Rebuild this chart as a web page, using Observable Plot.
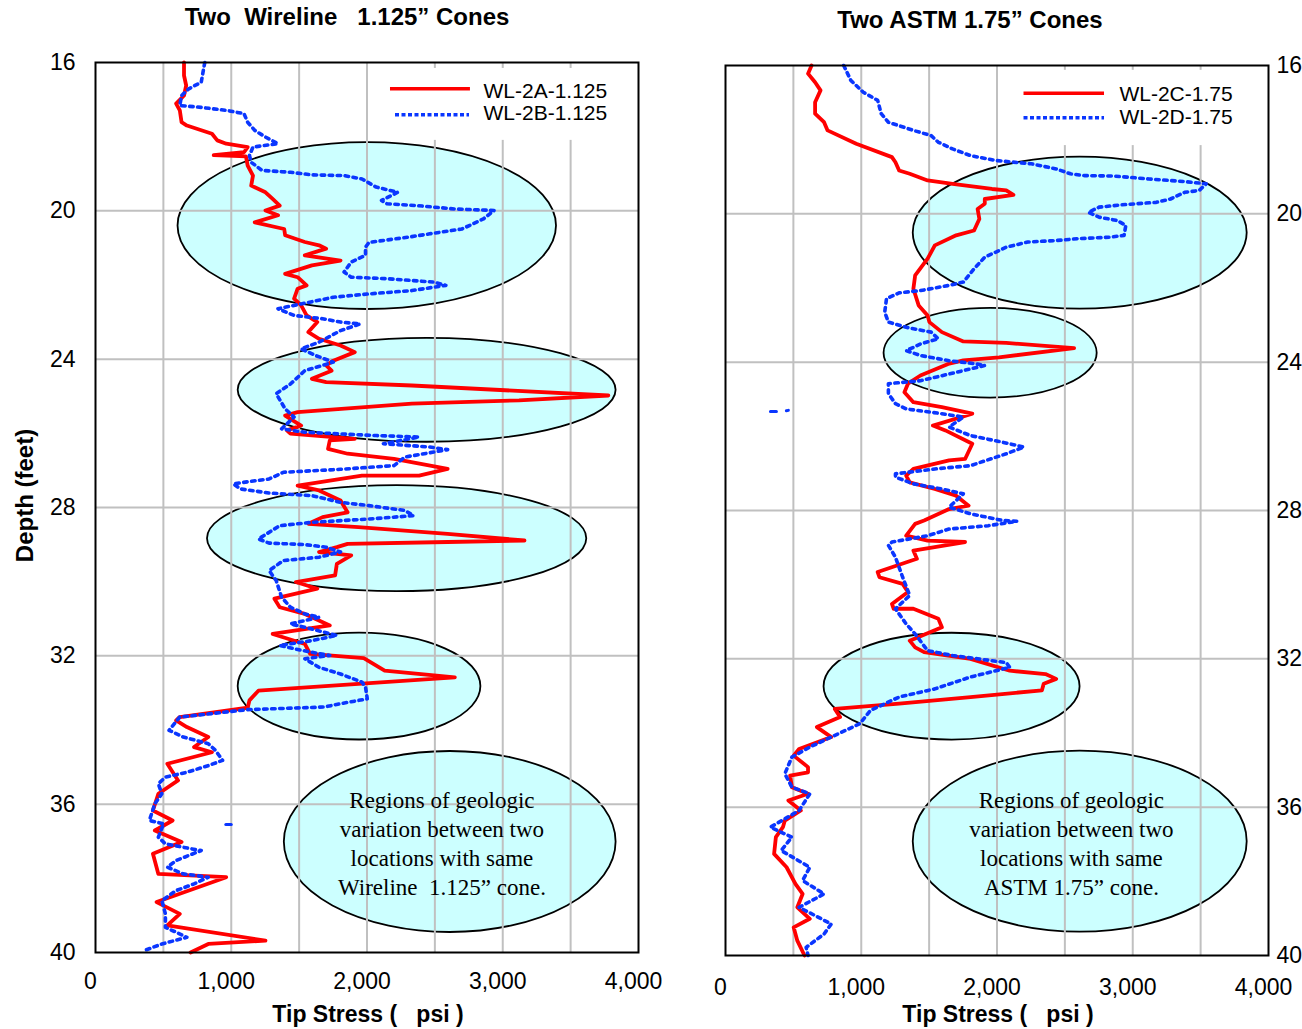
<!DOCTYPE html>
<html>
<head>
<meta charset="utf-8">
<script src="https://cdn.jsdelivr.net/npm/d3@7"></script>
<script src="https://cdn.jsdelivr.net/npm/@observablehq/plot@0.6"></script>
<style>
  body { margin: 0; background: #fff; }
  #wrap { position: relative; width: 1302px; height: 1029px; overflow: hidden; background: #fff; }
  #left, #right { position: absolute; top: 0; }
  #left { left: 0; }
  #right { left: 651px; }
  svg text { white-space: pre; }
</style>
</head>
<body>
<div id="wrap"><div id="left"></div><div id="right"></div></div>
<script>
// ---------- DATA (depth in feet, tip stress in psi) ----------
const wl2aDepth = [16.00,16.35,16.62,16.89,17.11,17.29,17.61,17.70,17.92,18.10,
  18.19,18.28,18.42,18.50,18.53,18.78,19.05,19.32,19.50,19.68,
  19.86,19.99,20.12,20.31,20.49,20.66,20.84,20.93,21.02,21.20,
  21.34,21.47,21.70,21.79,22.01,22.10,22.37,22.55,22.82,23.00,
  23.27,23.45,23.63,23.81,24.04,24.17,24.31,24.53,24.62,24.71,
  24.98,25.11,25.20,25.43,25.52,25.79,25.92,26.01,26.15,26.19,
  26.42,26.55,26.69,26.96,27.14,27.14,27.41,27.54,27.81,28.13,
  28.26,28.44,28.53,28.71,28.89,28.93,28.98,29.07,29.20,29.29,
  29.52,29.83,30.01,30.19,30.46,30.69,30.87,31.18,31.41,31.68,
  31.95,32.06,32.40,32.58,32.94,33.20,33.40,33.65,33.74,33.92,
  34.19,34.46,34.60,34.91,35.36,35.72,36.17,36.44,36.71,37.02,
  37.34,37.88,37.97,38.64,38.96,39.27,39.68,39.77,40.00];
const wl2aTip = [652,652,668,652,594,621,634,673,858,897,
  963,1121,1094,871,1108,1121,1160,1147,1252,1305,
  1357,1252,1345,1173,1390,1397,1542,1647,1699,1542,
  1805,1594,1397,1489,1555,1489,1463,1515,1555,1634,
  1568,1647,1805,1910,1752,1699,1739,1594,1699,2331,
  3778,3120,2331,1489,1397,1515,1410,1436,1910,1726,
  1713,1857,2199,2594,2384,1963,1489,1647,1805,1857,
  1673,1568,1936,2594,3160,2594,1857,1778,1647,1884,
  1778,1765,1476,1634,1318,1357,1542,1726,1305,1542,
  1581,1976,2130,2647,1200,1134,1121,621,594,673,
  831,726,858,529,608,463,423,568,437,634,
  423,463,963,450,621,529,1252,831,700];

const wl2bDepth = [16.00,16.26,16.53,16.71,16.89,17.16,17.20,17.29,17.38,17.61,
  17.83,18.01,18.19,18.28,18.51,18.69,18.91,18.96,19.03,19.05,
  19.14,19.36,19.50,19.72,19.81,19.86,19.95,19.99,20.22,20.49,
  20.62,20.71,20.85,20.98,21.20,21.38,21.65,21.79,21.83,21.92,
  22.01,22.15,22.24,22.33,22.51,22.64,22.82,22.91,23.00,23.05,
  23.23,23.54,23.72,23.90,24.08,24.31,24.67,24.93,25.34,25.56,
  25.88,25.97,26.06,26.10,26.28,26.37,26.44,26.64,26.87,26.97,
  27.05,27.23,27.36,27.50,27.61,27.68,27.86,27.95,28.08,28.22,
  28.31,28.40,28.49,28.85,28.96,29.00,29.07,29.20,29.34,29.43,
  29.70,29.97,30.42,30.69,30.87,30.96,31.14,31.23,31.45,31.59,
  31.72,31.85,31.99,32.08,32.31,32.49,32.71,32.84,33.16,33.29,
  33.38,33.42,33.45,33.60,33.65,34.01,34.19,34.37,34.55,34.82,
  34.96,35.14,35.27,35.45,35.72,35.99,36.44,36.53,36.89,37.07,
  37.20,37.25,37.52,37.70,37.88,37.97,38.15,38.33,38.60,38.96,
  39.32,39.59,39.77,39.95];
const wl2bTip = [805,792,779,687,634,621,752,963,1094,1121,
  1173,1252,1344,1160,1134,1147,1226,1436,1594,1831,
  1963,2068,2226,2107,2147,2371,2647,2936,2857,2699,
  2462,2305,2015,1989,1989,1884,1831,1884,2147,2489,
  2581,2331,2015,1752,1515,1344,1463,1673,1805,1949,
  1805,1647,1515,1620,1752,1542,1436,1331,1397,1463,
  1371,1542,2068,2384,2121,2462,2594,2278,2199,1805,
  1384,1279,1015,1068,1279,1594,1805,2015,2278,2344,
  2015,1594,1357,1200,1279,1542,1699,1805,1647,1384,
  1279,1331,1371,1436,1542,1647,1436,1542,1778,1594,
  1357,1515,1726,1542,1647,1805,1963,1989,2002,1805,
  1686,1370,1121,752,621,542,647,831,884,936,
  831,673,515,463,489,437,397,502,463,515,
  700,779,594,529,647,831,726,594,489,515,
  515,673,489,358];
// isolated stray readings of WL-2B
const wl2bStrayDepth = [36.55, 36.55];
const wl2bStrayTip = [960, 1000];

const wl2cDepth = [16.00,16.22,16.45,16.67,16.99,17.30,17.53,17.75,18.11,18.47,
  18.61,18.83,18.92,19.10,19.19,19.33,19.37,19.49,19.60,19.73,
  19.87,20.14,20.45,20.58,20.85,21.21,21.66,22.02,22.47,22.74,
  22.92,23.19,23.44,23.48,23.62,23.87,23.95,24.05,24.36,24.58,
  24.81,25.08,25.21,25.39,25.71,25.84,26.20,26.61,26.65,26.88,
  27.06,27.24,27.42,27.60,27.87,27.96,28.27,28.36,28.68,28.81,
  28.85,29.08,29.30,29.66,29.80,29.98,30.20,30.52,30.65,30.65,
  30.92,31.15,31.51,31.69,31.82,32.00,32.32,32.41,32.54,32.67,
  32.85,33.03,33.21,33.35,33.57,33.84,34.11,34.43,34.61,34.92,
  35.06,35.15,35.46,35.64,35.82,36.09,36.36,36.54,36.81,37.26,
  37.62,38.07,38.34,38.70,39.01,39.24,39.60,40.00];
const wl2cTip = [634,608,660,700,660,660,726,752,963,1226,
  1252,1279,1357,1489,1673,1963,2068,2121,1910,1910,
  1857,1870,1831,1699,1542,1489,1397,1384,1423,1489,
  1502,1594,1752,2068,2568,2015,1752,1640,1436,1344,
  1318,1384,1594,1818,1528,1620,1818,1765,1647,1384,
  1331,1357,1542,1699,1791,1647,1463,1397,1331,1489,
  1765,1384,1410,1121,1134,1305,1344,1226,1239,1384,
  1568,1594,1357,1397,1463,1805,2094,2357,2436,2344,
  2331,1805,1279,805,844,673,779,542,502,608,
  608,476,489,608,463,555,437,423,371,358,
  450,515,568,529,621,502,529,582];

const wl2dDepth = [16.00,16.40,16.72,16.94,17.30,17.53,17.75,17.89,18.07,18.25,
  18.43,18.56,18.65,18.79,18.92,18.97,18.98,19.06,19.13,19.19,
  19.37,19.42,19.60,19.69,19.76,19.82,19.96,20.09,20.18,20.31,
  20.58,20.63,20.67,20.72,20.76,20.90,21.17,21.48,21.84,21.93,
  22.07,22.13,22.29,22.65,22.92,23.06,23.19,23.37,23.51,23.69,
  23.82,23.96,24.05,24.09,24.32,24.50,24.58,24.85,25.12,25.26,
  25.39,25.48,25.75,25.98,26.16,26.29,26.47,26.79,26.88,27.01,
  27.10,27.28,27.42,27.55,27.91,28.09,28.27,28.29,28.41,28.50,
  28.68,28.85,28.94,29.26,29.80,30.29,30.65,31.06,31.33,31.78,
  31.91,32.00,32.10,32.23,32.49,32.81,33.03,33.39,33.75,34.02,
  34.38,34.65,35.10,35.46,35.64,36.09,36.54,36.81,37.17,37.62,
  37.98,38.34,38.70,39.15,39.42,39.78,40.00];
const wl2dTip = [871,923,1015,1121,1147,1200,1384,1515,1568,1673,
  1805,1989,2252,2436,2541,2647,2857,3120,3383,3541,
  3489,3383,3278,3173,2910,2752,2673,2752,2884,2949,
  2936,2831,2594,2436,2226,2068,1910,1831,1752,1647,
  1436,1279,1186,1173,1200,1331,1515,1568,1436,1331,
  1436,1647,1857,1910,1647,1436,1200,1200,1252,1331,
  1594,1752,1647,1805,2042,2199,2068,1805,1542,1252,
  1252,1384,1594,1752,1647,1805,2042,2147,1936,1647,
  1489,1226,1200,1252,1305,1357,1252,1331,1397,1489,
  1673,1857,2068,2094,1805,1542,1279,1068,989,831,
  621,489,437,489,621,542,331,489,410,621,
  568,726,542,779,726,594,608];
// isolated stray readings of WL-2D
const wl2dStrayDepth = [25.33, 25.33, 25.30];
const wl2dStrayTip = [331, 420, 463];

const xTicks = [0, 1000, 2000, 3000, 4000];
const xGrid = [500, 1000, 1500, 2000, 2500, 3000, 3500];
const yTicks = [16, 20, 24, 28, 32, 36, 40];
const yGrid = [20, 24, 28, 32, 36];

// annotation ellipses (centre and radii in data units)
const leftEllipses = [
  {cx: 2002, cy: 20.41, rx: 1394, ry: 2.25},
  {cx: 2443, cy: 24.84, rx: 1392, ry: 1.40},
  {cx: 2222, cy: 28.84, rx: 1397, ry: 1.43},
  {cx: 1945, cy: 32.83, rx: 894,  ry: 1.44},
  {cx: 2613, cy: 37.02, rx: 1222, ry: 2.44}
];
const rightEllipses = [
  {cx: 2613, cy: 20.52, rx: 1230, ry: 2.05},
  {cx: 1953, cy: 23.76, rx: 785,  ry: 1.21},
  {cx: 1669, cy: 32.75, rx: 943,  ry: 1.44},
  {cx: 2613, cy: 36.93, rx: 1230, ry: 2.44}
];
const leftNote = "Regions of geologic\nvariation between two\nlocations with same\nWireline  1.125\u201D cone.";
const rightNote = "Regions of geologic\nvariation between two\nlocations with same\nASTM 1.75\u201D cone.";

// ---------- helpers ----------
const series = (depths, tips) => depths.map((d, i) => ({depth: d, tip: tips[i]}));
const RED = "#ff0000", BLUE = "#0a36ff";
const SANS = "'Liberation Sans', Arial, sans-serif";
const SERIF = "'Liberation Serif', 'Times New Roman', serif";

function ellipseMark(list) {
  return (index, scales) => {
    const g = d3.create("svg:g");
    for (const e of list) {
      const cx = scales.x(e.cx), cy = scales.y(e.cy);
      g.append("ellipse")
        .attr("cx", cx).attr("cy", cy)
        .attr("rx", Math.abs(scales.x(e.cx + e.rx) - cx))
        .attr("ry", Math.abs(scales.y(e.cy + e.ry) - cy))
        .attr("fill", "#ccffff").attr("stroke", "#000").attr("stroke-width", 1.8);
    }
    return g.node();
  };
}

function panel(cfg) {
  return Plot.plot({
    width: 651, height: 1029,
    marginLeft: cfg.ml, marginRight: cfg.mr, marginTop: cfg.mt, marginBottom: cfg.mb,
    x: {domain: [0, 4000]},
    y: {domain: [16, 40], reverse: true},
    style: {fontFamily: SANS, background: "transparent", color: "#000", overflow: "visible"},
    marks: [
      ellipseMark(cfg.ellipses),
      Plot.ruleX(xGrid, {stroke: "#c0c0c0", strokeWidth: 2}),
      Plot.ruleY(yGrid, {stroke: "#c0c0c0", strokeWidth: 2}),
      Plot.rect([cfg.legendBox], {x1: "x1", x2: "x2", y1: "y1", y2: "y2", fill: "#fff"}),
      Plot.line(cfg.a, {x: "tip", y: "depth", stroke: RED, strokeWidth: 3.8, strokeLinejoin: "round"}),
      Plot.line(cfg.b, {x: "tip", y: "depth", stroke: BLUE, strokeWidth: 3.6, strokeDasharray: "3.5,4.5"}),
      Plot.line(cfg.stray, {x: "tip", y: "depth", stroke: BLUE, strokeWidth: 3, strokeDasharray: "6,10"}),
      Plot.text([cfg.note], {x: () => cfg.noteX, y: () => cfg.noteY, fontFamily: SERIF, fontSize: 23, lineHeight: 1.26, textAnchor: "middle", fill: "#000"}),
      Plot.frame({stroke: "#000", strokeWidth: 2}),
      // legend
      Plot.ruleY([cfg.leg[0]], {y: "y", x1: "x1", x2: "x2", stroke: RED, strokeWidth: 3.5}),
      Plot.ruleY([cfg.leg[1]], {y: "y", x1: "x1", x2: "x2", stroke: BLUE, strokeWidth: 3.5, strokeDasharray: "4,2.5"}),
      Plot.text(cfg.leg, {x: "tx", y: "ty", text: "label", textAnchor: "start", fontSize: 21, fill: "#000"}),
      // axes
      Plot.axisX({ticks: xTicks, tickFormat: d3.format(","), tickSize: 0, tickPadding: cfg.xPad, fontSize: 23, dx: -5, label: null}),
      Plot.axisY({anchor: cfg.yAnchor, ticks: yTicks, tickSize: 0, tickPadding: cfg.yPad, fontSize: 23, label: null}),
      // titles
      Plot.text([cfg.title], {frameAnchor: "top", textAnchor: "middle", lineAnchor: "middle", dx: cfg.titleDx, dy: cfg.titleDy, fontSize: 24, fontWeight: "bold", fill: "#000"}),
      Plot.text(["Tip Stress (   psi )"], {frameAnchor: "bottom", textAnchor: "middle", lineAnchor: "middle", dx: 1, dy: cfg.xLabDy, fontSize: 23, fontWeight: "bold", fill: "#000"}),
      ...(cfg.yLabel ? [Plot.text([cfg.yLabel], {frameAnchor: "left", textAnchor: "middle", lineAnchor: "middle", rotate: -90, dx: -70, dy: -12, fontSize: 24, fontWeight: "bold", fill: "#000"})] : [])
    ]
  });
}

document.getElementById("left").append(panel({
  ml: 95, mr: 13, mt: 62, mb: 77,
  ellipses: leftEllipses,
  a: series(wl2aDepth, wl2aTip), b: series(wl2bDepth, wl2bTip),
  stray: series(wl2bStrayDepth, wl2bStrayTip),
  note: leftNote, noteX: 2552, noteY: 37.02,
  legendBox: {x1: 2099, x2: 3985, y1: 16.16, y2: 18.10},
  leg: [
    {label: "WL-2A-1.125", y: 16.71, x1: 2173, x2: 2762, tx: 2858, ty: 16.78},
    {label: "WL-2B-1.125", y: 17.41, x1: 2210, x2: 2755, tx: 2858, ty: 17.36}
  ],
  xPad: 20, yAnchor: "left", yPad: 20,
  title: "Two  Wireline   1.125\u201D Cones", titleDx: -20, titleDy: -45, xLabDy: 62,
  yLabel: "Depth (feet)"
}));

document.getElementById("right").append(panel({
  ml: 74, mr: 34, mt: 65, mb: 74,
  ellipses: rightEllipses,
  a: series(wl2cDepth, wl2cTip), b: series(wl2dDepth, wl2dTip),
  stray: series(wl2dStrayDepth, wl2dStrayTip),
  note: rightNote, noteX: 2548, noteY: 36.94,
  legendBox: {x1: 2099, x2: 3985, y1: 16.13, y2: 18.16},
  leg: [
    {label: "WL-2C-1.75", y: 16.75, x1: 2199, x2: 2792, tx: 2902, ty: 16.78},
    {label: "WL-2D-1.75", y: 17.41, x1: 2199, x2: 2792, tx: 2902, ty: 17.39}
  ],
  xPad: 23, yAnchor: "right", yPad: 8,
  title: "Two ASTM 1.75\u201D Cones", titleDx: -27, titleDy: -45, xLabDy: 59,
  yLabel: null
}));
</script>
</body>
</html>
